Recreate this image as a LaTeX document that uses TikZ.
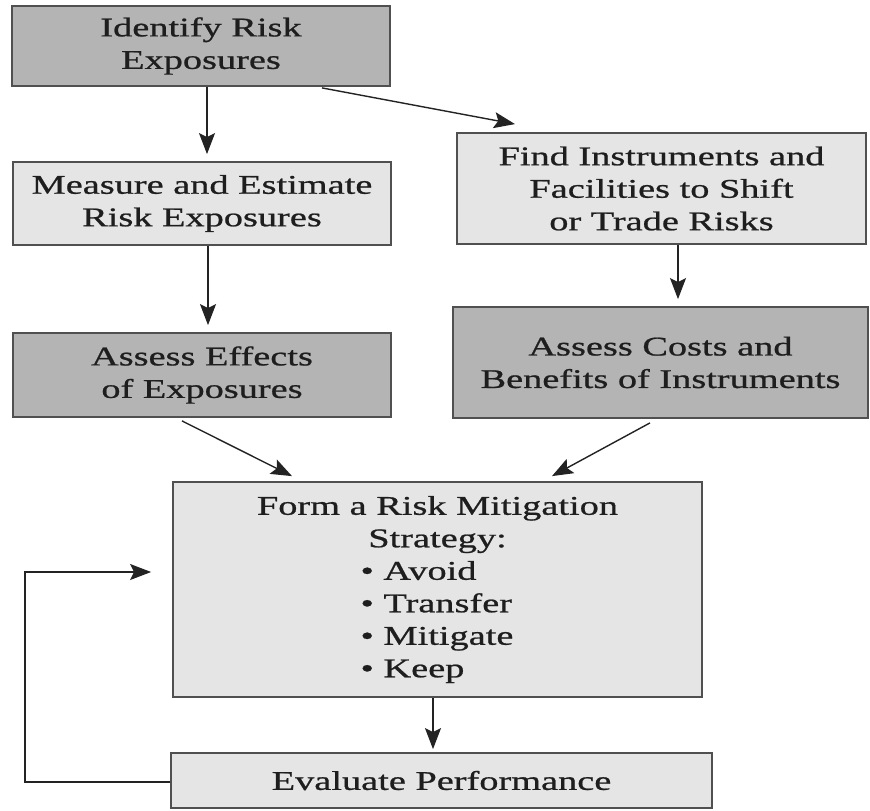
\documentclass[tikz,border=0pt]{standalone}
\usepackage{fontspec}
\setmainfont{Liberation Serif}[FakeStretch=1.42,FakeBold=0.8]
\usetikzlibrary{arrows.meta}
\definecolor{darkbox}{RGB}{180,180,180}
\definecolor{lightbox}{RGB}{229,229,229}
\definecolor{boxline}{RGB}{80,80,80}
\definecolor{arrowcol}{RGB}{35,35,35}
\definecolor{txt}{RGB}{30,30,30}
\newcommand\bitem[1]{\makebox[154pt][l]{\textbullet~#1}}
\begin{document}
\begin{tikzpicture}[x=1pt,y=-1pt,
  box/.style={draw=boxline,line width=1.8pt,align=center,inner sep=0pt,
    text=txt,font=\fontsize{27}{32.5}\selectfont},
  darkb/.style={box,fill=darkbox},
  lightb/.style={box,fill=lightbox},
  arr/.style={draw=arrowcol,line width=1.4pt,-{Stealth[length=21pt,width=16pt,inset=4pt]}}]
\useasboundingbox[fill=white] (0,0) rectangle (870,811);

\node[darkb,minimum width=378pt,minimum height=80pt] (b1) at (201,46) {Identify Risk\\Exposures};
\node[lightb,minimum width=378pt,minimum height=83pt] (b2) at (202,203.5) {Measure and Estimate\\Risk Exposures};
\node[lightb,minimum width=409pt,minimum height=111pt] (b3) at (661.5,188.5) {Find Instruments and\\Facilities to Shift\\or Trade Risks};
\node[darkb,minimum width=378pt,minimum height=84pt] (b4) at (202,375) {Assess Effects\\of Exposures};
\node[darkb,minimum width=415pt,minimum height=111pt] (b5) at (660.5,362.5) {Assess Costs and\\Benefits of Instruments};
\node[lightb,minimum width=529pt,minimum height=215pt] (b6) at (437.5,589.5)
  {Form a Risk Mitigation\\Strategy:\\\bitem{Avoid}\\\bitem{Transfer}\\\bitem{Mitigate}\\\bitem{Keep}};
\node[lightb,minimum width=541pt,minimum height=55pt] (b7) at (441.5,780.5) {Evaluate Performance};

\draw[arr,shorten >=7pt] ([xshift=6pt]b1.south) -- ([xshift=5pt]b2.north);
\draw[arr,shorten >=7pt] ([xshift=6pt]b2.south) -- ([xshift=6pt]b4.north);
\draw[arr] ([xshift=121pt,yshift=-1pt]b1.south) -- ([xshift=-146.5pt,yshift=8pt]b3.north);
\draw[arr,shorten >=7pt] ([xshift=16.5pt]b3.south) -- ([xshift=17.5pt]b5.north);
\draw[arr] ([xshift=-20pt,yshift=-3pt]b4.south) -- ([xshift=-145.5pt,yshift=5pt]b6.north);
\draw[arr] ([xshift=-10.5pt,yshift=-4pt]b5.south) -- ([xshift=114.5pt,yshift=5pt]b6.north);
\draw[arr,shorten >=3pt] ([xshift=-4.5pt]b6.south) -- ([xshift=-8.5pt]b7.north);
\draw[arr] ([yshift=-1.5pt]b7.west) -- ++(-145,0) |- ([xshift=-21pt,yshift=17.5pt]b6.west);
\end{tikzpicture}
\end{document}
